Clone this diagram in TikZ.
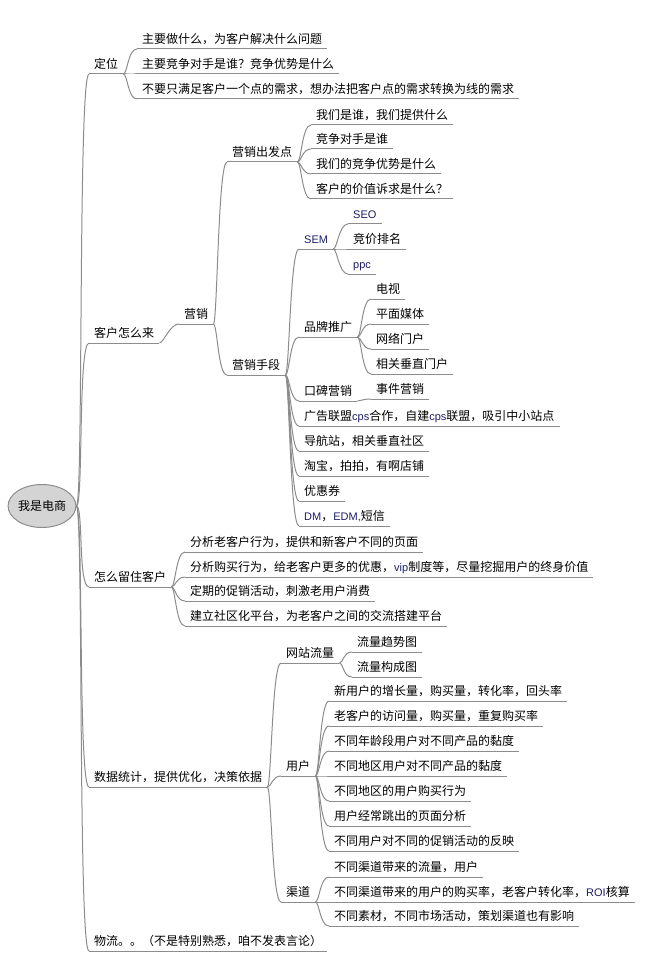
\documentclass[tikz,border=0pt]{standalone}
\usepackage{fontspec}
\setmainfont{Noto Sans CJK SC}
\newfontfamily\latfont{Liberation Sans}
\usetikzlibrary{shapes.geometric}
\definecolor{linegray}{HTML}{8C8C8C}
\definecolor{rootfill}{HTML}{D4D4D4}
\definecolor{entext}{HTML}{1C1C66}
\newcommand\latn[1]{{\latfont\fontsize{11}{13}\selectfont\color{entext}#1}}
\tikzset{
  uline/.style={draw=linegray, line width=1pt},
  lbl/.style={anchor=south west, inner xsep=5pt, inner ysep=3.5pt,
    text height=10pt, text depth=2pt, font=\fontsize{12}{14}\selectfont,
    append after command={(\tikzlastnode.south west) edge[uline] (\tikzlastnode.south east)}},
  rootnode/.style={ellipse, draw=linegray, fill=rootfill, line width=1pt,
    minimum width=61pt, minimum height=43pt, inner sep=0pt, font=\fontsize{12}{14}\selectfont},
  conn/.style={draw=linegray, line width=1pt},
  br/.style={out=0, in=180, out distance=4pt, in distance=9pt},
  trunk/.style={out=0, in=180, out distance=7pt, in distance=11pt}
}
\begin{document}
\begin{tikzpicture}[x=1pt, y=-1pt]
\useasboundingbox (0,0) rectangle (652,968);

\node[rootnode] (root) at (42,506) {我是电商};

% level 1
\node[lbl] (dw) at (89,74) {定位};
\node[lbl] (kh) at (89,343) {客户怎么来};
\node[lbl] (lz) at (89,587) {怎么留住客户};
\node[lbl] (sj) at (89,787) {数据统计，提供优化，决策依据};
\node[lbl] (wl) at (89,951) {物流。。（不是特别熟悉，咱不发表言论）};

\foreach \n in {dw,kh,lz,sj,wl} \draw[conn] (root.east) to[trunk] (\n.south west);

% 定位
\node[lbl] (dw1) at (137,49) {主要做什么，为客户解决什么问题};
\node[lbl] (dw2) at (137,74) {主要竞争对手是谁？竞争优势是什么};
\node[lbl] (dw3) at (137,99) {不要只满足客户一个点的需求，想办法把客户点的需求转换为线的需求};
\foreach \n in {dw1,dw2,dw3} \draw[conn] (dw.south east) to[br] (\n.south west);

% 客户怎么来
\node[lbl] (yx) at (179,324) {营销};
\draw[conn] (kh.south east) to[br] (yx.south west);
\node[lbl] (cf) at (227,162) {营销出发点};
\node[lbl] (sd) at (227,375) {营销手段};
\draw[conn] (yx.south east) to[br] (cf.south west);
\draw[conn] (yx.south east) to[br] (sd.south west);

\node[lbl] (cf1) at (311,125) {我们是谁，我们提供什么};
\node[lbl] (cf2) at (311,149) {竞争对手是谁};
\node[lbl] (cf3) at (311,174) {我们的竞争优势是什么};
\node[lbl] (cf4) at (311,199) {客户的价值诉求是什么？};
\foreach \n in {cf1,cf2,cf3,cf4} \draw[conn] (cf.south east) to[br] (\n.south west);

\node[lbl] (sem) at (299,249) {\latn{SEM}};
\node[lbl] (pp) at (299,337) {品牌推广};
\node[lbl] (kb) at (299,401) {口碑营销};
\node[lbl] (gg) at (299,426) {广告联盟\latn{cps}合作，自建\latn{cps}联盟，吸引中小站点};
\node[lbl] (dh) at (299,451) {导航站，相关垂直社区};
\node[lbl] (tb) at (299,476) {淘宝，拍拍，有啊店铺};
\node[lbl] (yh) at (299,501) {优惠券};
\node[lbl] (dm) at (299,526) {\latn{DM}，\latn{EDM,}短信};
\foreach \n in {sem,pp,kb,gg,dh,tb,yh,dm} \draw[conn] (sd.south east) to[br] (\n.south west);

\node[lbl] (seo) at (348,224) {\latn{SEO}};
\node[lbl] (jj) at (348,249) {竞价排名};
\node[lbl] (ppc) at (348,274) {\latn{ppc}};
\foreach \n in {seo,jj,ppc} \draw[conn] (sem.south east) to[br] (\n.south west);

\node[lbl] (ds) at (371,299) {电视};
\node[lbl] (pm) at (371,324) {平面媒体};
\node[lbl] (wm) at (371,349) {网络门户};
\node[lbl] (xg) at (371,374) {相关垂直门户};
\foreach \n in {ds,pm,wm,xg} \draw[conn] (pp.south east) to[br] (\n.south west);

\node[lbl] (sj1) at (371,399) {事件营销};
\draw[conn] (kb.south east) to[br] (sj1.south west);

% 怎么留住客户
\node[lbl] (lz1) at (185,552) {分析老客户行为，提供和新客户不同的页面};
\node[lbl] (lz2) at (185,577) {分析购买行为，给老客户更多的优惠，\latn{vip}制度等，尽量挖掘用户的终身价值};
\node[lbl] (lz3) at (185,601) {定期的促销活动，刺激老用户消费};
\node[lbl] (lz4) at (185,626) {建立社区化平台，为老客户之间的交流搭建平台};
\foreach \n in {lz1,lz2,lz3,lz4} \draw[conn] (lz.south east) to[br] (\n.south west);

% 数据统计
\node[lbl] (ll) at (281,663) {网站流量};
\node[lbl] (yhu) at (281,776) {用户};
\node[lbl] (qd) at (281,902) {渠道};
\foreach \n in {ll,yhu,qd} \draw[conn] (sj.south east) to[br] (\n.south west);

\node[lbl] (ll1) at (352,652) {流量趋势图};
\node[lbl] (ll2) at (352,677) {流量构成图};
\foreach \n in {ll1,ll2} \draw[conn] (ll.south east) to[br] (\n.south west);

\node[lbl] (u1) at (329,701) {新用户的增长量，购买量，转化率，回头率};
\node[lbl] (u2) at (329,726) {老客户的访问量，购买量，重复购买率};
\node[lbl] (u3) at (329,751) {不同年龄段用户对不同产品的黏度};
\node[lbl] (u4) at (329,776) {不同地区用户对不同产品的黏度};
\node[lbl] (u5) at (329,801) {不同地区的用户购买行为};
\node[lbl] (u6) at (329,826) {用户经常跳出的页面分析};
\node[lbl] (u7) at (329,851) {不同用户对不同的促销活动的反映};
\foreach \n in {u1,u2,u3,u4,u5,u6,u7} \draw[conn] (yhu.south east) to[br] (\n.south west);

\node[lbl] (q1) at (329,877) {不同渠道带来的流量，用户};
\node[lbl] (q2) at (329,902) {不同渠道带来的用户的购买率，老客户转化率，\latn{ROI}核算};
\node[lbl] (q3) at (329,926) {不同素材，不同市场活动，策划渠道也有影响};
\foreach \n in {q1,q2,q3} \draw[conn] (qd.south east) to[br] (\n.south west);
\end{tikzpicture}
\end{document}
